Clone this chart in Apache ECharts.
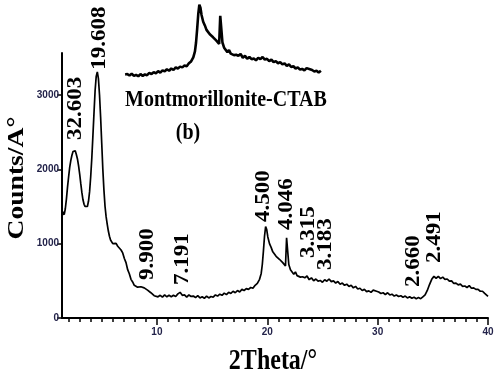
<!DOCTYPE html>
<html>
<head>
<meta charset="utf-8">
<script src="https://cdn.jsdelivr.net/npm/echarts@6/dist/echarts.min.js"></script>
<style>
html, body { margin: 0; padding: 0; background: #fff; }
#chart { width: 500px; height: 376px; }
</style>
</head>
<body>
<div id="chart"></div>
<script>
// XRD pattern
var twoTheta = [
    1.4, 1.5, 1.6, 1.7, 1.8, 1.9, 2.0, 2.1, 2.2, 2.3, 2.4, 2.5, 2.6, 2.7, 2.8, 2.9,
    3.0, 3.1, 3.2, 3.3, 3.4, 3.5, 3.6, 3.7, 3.8, 3.9, 4.0, 4.1, 4.2, 4.3, 4.4, 4.5,
    4.6, 4.7, 4.8, 4.9, 5.0, 5.1, 5.2, 5.3, 5.4, 5.5, 5.6, 5.7, 5.8, 5.9, 6.0, 6.15,
    6.3, 6.45, 6.6, 6.75, 6.9, 7.05, 7.2, 7.35, 7.5, 7.65, 7.8, 7.95, 8.1, 8.25, 8.4,
    8.55, 8.7, 8.85, 9.0, 9.15, 9.3, 9.45, 9.6, 9.75, 9.9, 10.1, 10.3, 10.5, 10.7, 10.9,
    11.1, 11.3, 11.5, 11.7, 11.9, 12.1, 12.3, 12.5, 12.7, 12.9, 13.1, 13.3, 13.5, 13.7,
    13.9, 14.1, 14.3, 14.5, 14.7, 14.9, 15.1, 15.3, 15.5, 15.7, 15.9, 16.1, 16.3, 16.5,
    16.7, 16.9, 17.1, 17.3, 17.5, 17.7, 17.9, 18.1, 18.3, 18.5, 18.7, 18.9, 19.1, 19.3,
    19.45, 19.55, 19.65, 19.75, 19.85, 19.95, 20.05, 20.2, 20.35, 20.5, 20.65, 20.8,
    20.95, 21.1, 21.25, 21.4, 21.55, 21.65, 21.75, 21.85, 21.95, 22.1, 22.25, 22.4,
    22.55, 22.7, 22.85, 23.0, 23.2, 23.4, 23.6, 23.8, 24.0, 24.2, 24.4, 24.6, 24.8,
    25.0, 25.2, 25.4, 25.6, 25.8, 26.0, 26.2, 26.4, 26.6, 26.8, 27.0, 27.2, 27.4, 27.6,
    27.8, 28.0, 28.2, 28.4, 28.6, 28.8, 29.0, 29.2, 29.4, 29.6, 29.75, 29.9, 30.1, 30.3,
    30.5, 30.7, 30.9, 31.1, 31.3, 31.5, 31.7, 31.9, 32.1, 32.3, 32.5, 32.7, 32.9, 33.1,
    33.3, 33.5, 33.7, 33.9, 34.1, 34.3, 34.5, 34.7, 34.9, 35.1, 35.3, 35.5, 35.7, 35.9,
    36.1, 36.3, 36.5, 36.7, 36.9, 37.1, 37.3, 37.5, 37.7, 37.9, 38.1, 38.3, 38.5, 38.7,
    38.9, 39.1, 39.3, 39.5, 39.7, 39.85, 40.0
];
var counts = [
    1360, 1430, 1390, 1470, 1600, 1760, 1900, 2030, 2120, 2190, 2240, 2265, 2250, 2200, 2140, 2050,
    1940, 1810, 1690, 1590, 1530, 1500, 1480, 1500, 1570, 1700, 1900, 2150, 2450, 2760, 3060, 3250,
    3310, 3220, 3000, 2700, 2350, 2000, 1720, 1500, 1360, 1260, 1170, 1100, 1050, 1030, 1000, 975,
    1005, 965, 960, 915, 875, 800, 745, 650, 595, 520, 485, 440, 435, 415, 425,
    420, 440, 405, 410, 375, 365, 340, 325, 300, 305, 285, 305, 280, 310, 285,
    305, 285, 305, 290, 325, 345, 305, 310, 280, 310, 290, 295, 275, 300,
    270, 285, 265, 295, 270, 290, 280, 310, 295, 320, 305, 335, 315, 345,
    330, 360, 340, 370, 350, 385, 370, 395, 385, 410, 400, 440, 465, 520,
    600, 720, 900, 1100, 1230, 1190, 1090, 1000, 950, 890, 880, 830,
    825, 790, 790, 745, 735, 700, 1080, 1060, 720, 650, 635, 590,
    620, 570, 595, 550, 555, 540, 565, 515, 540, 500, 525, 495, 505,
    480, 515, 495, 525, 490, 500, 470, 490, 455, 470, 440, 455, 425, 440,
    405, 425, 390, 400, 370, 385, 355, 365, 345, 375, 400, 360, 350, 330,
    340, 315, 340, 310, 320, 295, 310, 290, 300, 280, 295, 270, 285, 265,
    280, 260, 275, 260, 285, 310, 370, 450, 520, 560, 535, 560, 530, 550,
    520, 525, 495, 500, 465, 470, 445, 455, 425, 430, 410, 435, 400, 405,
    385, 385, 360, 360, 330, 325, 290
];

var xMinorTicks = [];
for (var t = 2; t <= 40; t++) xMinorTicks.push(t);
var xMajorTicks = [10, 20, 30, 40];
var yTicks = [0, 1000, 2000, 3000];

// peak annotations (d-spacing) and where their text starts
var peakNames = ['32.603', '19.608', '9.900', '7.191', '4.500', '4.046', '3.315', '3.183', '2.660', '2.491'];
var peakTheta = [2.64, 4.82, 9.18, 12.36, 19.73, 21.73, 23.8, 25.27, 33.27, 35.18];
var peakCounts = [2396, 3338, 511, 444, 1292, 1184, 807, 646, 417, 740];

// the small inset repeats part of the pattern
var insetRange = [13, 31];

var mainData = twoTheta.map(function (x, i) { return [x, counts[i]]; });
var insetData = mainData.filter(function (p) { return p[0] >= insetRange[0] && p[0] <= insetRange[1]; });

var serif = '"Liberation Serif", "Times New Roman", serif';
var tickFont = '"Liberation Sans Narrow", "Arial Narrow", "Liberation Sans", sans-serif';

var chartDom = document.getElementById('chart');
var chart = echarts.init(chartDom);
var option = {
    animation: false,
    backgroundColor: '#fff',
    grid: [
        { left: 62, right: 12, top: 53, bottom: 58 },
        { left: 124, top: 0, width: 198, height: 80 }
    ],
    xAxis: [
        {
            gridIndex: 0, type: 'value', min: 1.4, max: 40,
            axisLine: { lineStyle: { color: '#000', width: 2 } },
            axisTick: { customValues: xMinorTicks, length: 4, lineStyle: { color: '#000', width: 1.5 } },
            axisLabel: {
                customValues: xMajorTicks, margin: 9,
                fontFamily: tickFont, fontSize: 10, fontWeight: 'bold', color: '#23234a'
            },
            splitLine: { show: false }
        },
        {
            gridIndex: 0, type: 'value', min: 1.4, max: 40, position: 'bottom',
            axisLine: { show: false },
            axisTick: { customValues: xMajorTicks, length: 7, lineStyle: { color: '#000', width: 1.5 } },
            axisLabel: { show: false },
            splitLine: { show: false }
        },
        { gridIndex: 1, type: 'value', min: insetRange[0], max: insetRange[1], show: false }
    ],
    yAxis: [
        {
            gridIndex: 0, type: 'value', min: 0, max: 3565,
            axisLine: { show: true, lineStyle: { color: '#000', width: 2 } },
            axisTick: { show: true, customValues: yTicks, length: 5, lineStyle: { color: '#000', width: 1.5 } },
            axisLabel: {
                customValues: yTicks, margin: 3,
                formatter: function (v) { return String(v); },
                fontFamily: tickFont, fontSize: 10, fontWeight: 'bold', color: '#23234a'
            },
            splitLine: { show: false }
        },
        { gridIndex: 1, type: 'value', min: 215, max: 1292, show: false }
    ],
    series: [
        {
            type: 'line', xAxisIndex: 0, yAxisIndex: 0,
            data: mainData, showSymbol: false,
            lineStyle: { color: '#000', width: 1.7 }
        },
        {
            type: 'line', xAxisIndex: 2, yAxisIndex: 1,
            data: insetData, showSymbol: false,
            lineStyle: { color: '#000', width: 2.6 }
        }
    ]
};
chart.setOption(option);

// texts, stretched vertically like the scanned figure
var graphics = [
    {
        type: 'text', x: 17, y: 178, rotation: Math.PI / 2, scaleX: 1.2,
        style: { text: 'Counts/A°', font: 'bold 23px ' + serif, fill: '#000', align: 'center', verticalAlign: 'middle' }
    },
    {
        type: 'text', x: 273, y: 361, scaleY: 1.25,
        style: { text: '2Theta/°', font: 'bold 24px ' + serif, fill: '#000', align: 'center', verticalAlign: 'middle' }
    },
    {
        type: 'text', x: 125, y: 100, scaleY: 1.2,
        style: { text: 'Montmorillonite-CTAB', font: 'bold 20px ' + serif, fill: '#000', align: 'left', verticalAlign: 'middle' }
    },
    {
        type: 'text', x: 188, y: 133, scaleY: 1.2,
        style: { text: '(b)', font: 'bold 20px ' + serif, fill: '#000', align: 'center', verticalAlign: 'middle' }
    }
];
peakNames.forEach(function (name, i) {
    var p = chart.convertToPixel({ xAxisIndex: 0, yAxisIndex: 0 }, [peakTheta[i], peakCounts[i]]);
    graphics.push({
        type: 'text', x: p[0], y: p[1], rotation: Math.PI / 2, scaleX: 1.15,
        style: { text: name, font: 'bold 20px ' + serif, fill: '#000', align: 'left', verticalAlign: 'middle' }
    });
});
chart.setOption({ graphic: graphics });

window.addEventListener('resize', function () {
    chart.resize();
});
</script>
</body>
</html>
